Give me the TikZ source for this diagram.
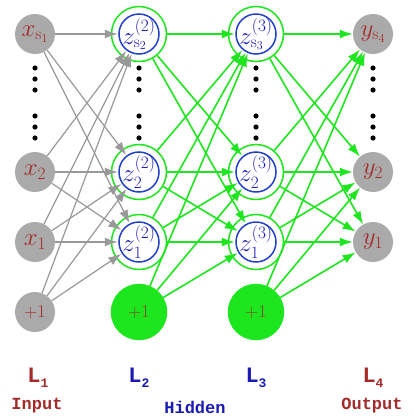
\documentclass[tikz,border=0pt]{standalone}
\usepackage{amsmath}
\usepackage{fontspec}
\setmonofont{Liberation Mono}
\usepackage{tikz}
\usetikzlibrary{arrows.meta}
\definecolor{nred}{HTML}{A52A2A}
\definecolor{nblue}{HTML}{1A1AB4}
\definecolor{ringblue}{HTML}{2040C8}
\definecolor{ngreen}{HTML}{1EE61E}
\definecolor{ngray}{HTML}{AAAAAA}
\definecolor{egray}{HTML}{999999}
\definecolor{biastext}{HTML}{7A4A1A}
\tikzset{unit/.style={circle,fill=ngray,minimum size=40pt,inner sep=0pt,
   text=nred,font=\fontsize{24}{26}\selectfont},
 hid/.style={circle,draw=ngreen,line width=1.5pt,fill=white,minimum size=55pt,
   inner sep=0pt,text=nblue,font=\fontsize{24}{26}\selectfont,
   path picture={\draw[ringblue,line width=1.5pt]
     (path picture bounding box.center) circle (20pt);}},
 bias/.style={circle,fill=ngreen,draw=ngreen,minimum size=56pt,inner sep=0pt,
   text=biastext,font=\fontsize{18}{20}\selectfont},
 gedge/.style={draw=egray,line width=1.2pt,-{Latex[length=13pt,width=9pt]}},
 zedge/.style={draw=ngreen,line width=1.6pt,-{Latex[length=13pt,width=9pt]}},
 laytag/.style={font=\ttfamily\bfseries\fontsize{22}{24}\selectfont},
 roletag/.style={font=\ttfamily\bfseries\fontsize{17}{19}\selectfont},
 }
\newcommand{\layname}[1]{L\raisebox{-5pt}{\fontsize{13}{13}\selectfont #1}}

\begin{document}
\begin{tikzpicture}[x=1pt,y=-1pt]
        \useasboundingbox (0,0) rectangle (413,418);
        % layer 1
        \node[unit] (in-s) at (35,34) {$x_{\mathrm{s}_1}$};
        \node[unit] (in-2) at (35,172) {$x_2$};
        \node[unit] (in-1) at (35,242) {$x_1$};
        \node[unit,font=\fontsize{18}{20}\selectfont] (in-b) at (35,312) {+1};
        % layer 2
        \node[hid] (ha-s) at (139,34) {$z^{(2)}_{\mathrm{s}_2}$};
        \node[hid] (ha-2) at (139,172) {$z^{(2)}_2$};
        \node[hid] (ha-1) at (139,242) {$z^{(2)}_1$};
        \node[bias] (ha-b) at (139,312) {+1};
        % layer 3
        \node[hid] (hb-s) at (256,34) {$z^{(3)}_{\mathrm{s}_3}$};
        \node[hid] (hb-2) at (256,172) {$z^{(3)}_2$};
        \node[hid] (hb-1) at (256,242) {$z^{(3)}_1$};
        \node[bias] (hb-b) at (256,312) {+1};
        % layer 4
        \node[unit] (out-s) at (373,34) {$y_{\mathrm{s}_4}$};
        \node[unit] (out-2) at (373,172) {$y_2$};
        \node[unit] (out-1) at (373,242) {$y_1$};
        % dots
        \foreach \x in {35,139,256,373} {
            \foreach \y in {68,79,90,116,127,138} {
                \fill (\x,\y) circle (2.6pt);
            }
        }
        % connections
        \foreach \a in {in-s,in-2,in-1,in-b} {
            \foreach \b in {ha-s,ha-2,ha-1} {
                \draw[gedge,shorten >=-7pt] (\a) -- (\b);
            }
        }
        \foreach \a in {ha-s,ha-2,ha-1,ha-b} {
            \foreach \b in {hb-s,hb-2,hb-1} {
                \draw[zedge,shorten >=-7pt] (\a) -- (\b);
            }
        }
        \foreach \a in {hb-s,hb-2,hb-1,hb-b} {
            \foreach \b in {out-s,out-2,out-1} {
                \draw[zedge] (\a) -- (\b);
            }
        }
        % labels
        \node[laytag,text=nred] (tag-1) at (38,378) {\layname{1}};
        \node[laytag,text=nblue] (tag-2) at (139,378) {\layname{2}};
        \node[laytag,text=nblue] (tag-3) at (256,378) {\layname{3}};
        \node[laytag,text=nred] (tag-4) at (373,378) {\layname{4}};
        \node[roletag,text=nred] (role-in) at (37,406) {Input};
        \node[roletag,text=nblue] (role-hid) at (195,407) {Hidden};
        \node[roletag,text=nred] (role-out) at (372,406) {Output};
    \end{tikzpicture}
\end{document}
